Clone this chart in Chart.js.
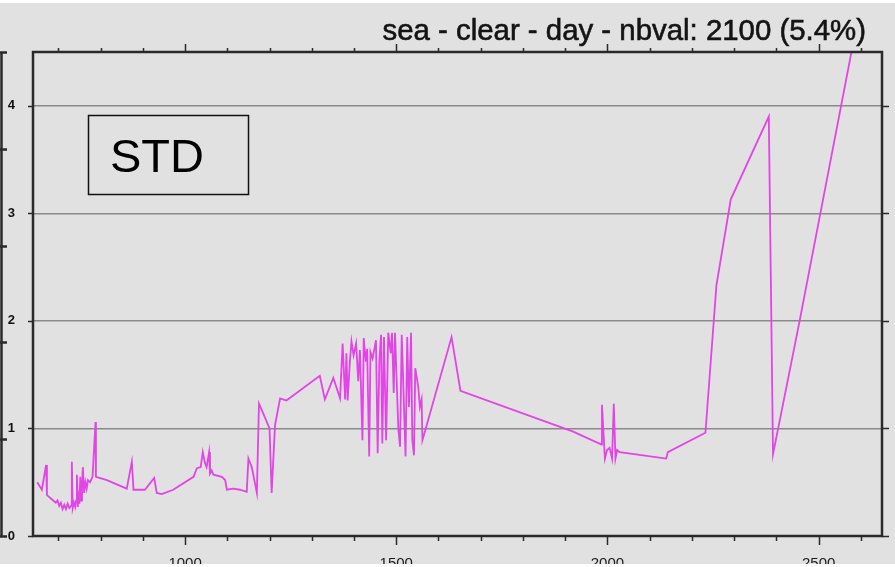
<!DOCTYPE html>
<html>
<head>
<meta charset="utf-8">
<script src="https://cdn.jsdelivr.net/npm/chart.js@4.4.1/dist/chart.umd.min.js"></script>
<style>
  html, body { margin: 0; padding: 0; background: #ffffff; }
  #wrap { width: 895px; height: 567px; }
</style>
</head>
<body>
<div id="wrap"><canvas id="chart" width="895" height="567"></canvas></div>
<script>
// Standard deviation per channel (wavenumber, cm-1)
const wavenumbers = [
  650, 661, 671, 673, 688, 694, 698, 702, 706, 710, 714, 718, 722, 726, 730, 732, 734, 737, 740, 742,
  744, 746, 748, 750, 752, 754, 756, 758, 761, 764, 767, 770, 775, 781, 788, 789, 815, 862, 874, 878,
  905, 927, 933, 945, 972, 1020, 1028, 1037, 1042, 1047, 1051, 1057, 1059, 1063, 1067, 1087, 1095, 1099, 1114, 1130,
  1146, 1150, 1158, 1170, 1175, 1185, 1200, 1205, 1213, 1225, 1240, 1319, 1331, 1351, 1367, 1373, 1379, 1382, 1385, 1390,
  1394, 1399, 1405, 1410, 1414, 1420, 1423, 1428, 1431, 1436, 1439, 1444, 1452, 1456, 1460, 1464, 1467, 1471, 1476, 1481,
  1487, 1490, 1494, 1497, 1505, 1509, 1513, 1522, 1526, 1530, 1535, 1538, 1542, 1545, 1552, 1556, 1560, 1562, 1631, 1652,
  1919, 1986, 1987, 1994, 1999, 2005, 2011, 2015, 2019, 2023, 2029, 2139, 2143, 2232, 2258, 2292, 2382, 2392, 2455, 2590
];
const stdValues = [
  0.50, 0.43, 0.66, 0.38, 0.33, 0.31, 0.33, 0.28, 0.31, 0.25, 0.29, 0.25, 0.30, 0.26, 0.28, 0.69, 0.26, 0.31, 0.27, 0.33,
  0.57, 0.27, 0.36, 0.30, 0.55, 0.33, 0.45, 0.64, 0.40, 0.50, 0.44, 0.52, 0.50, 0.55, 1.06, 0.55, 0.52, 0.44, 0.69, 0.43,
  0.43, 0.54, 0.40, 0.39, 0.43, 0.55, 0.63, 0.64, 0.78, 0.68, 0.64, 0.78, 0.58, 0.61, 0.57, 0.55, 0.52, 0.43, 0.44, 0.43,
  0.41, 0.72, 0.64, 0.40, 1.23, 1.14, 1.00, 0.40, 1.03, 1.28, 1.26, 1.49, 1.27, 1.47, 1.28, 1.79, 1.27, 1.70, 1.26, 1.61,
  1.81, 1.68, 1.79, 1.44, 1.73, 0.89, 1.84, 1.62, 1.74, 0.74, 1.71, 1.65, 1.82, 0.77, 1.62, 1.87, 0.86, 1.85, 0.89, 1.89,
  1.70, 1.89, 1.33, 1.89, 0.99, 0.83, 1.87, 0.74, 1.85, 1.20, 1.89, 0.89, 0.75, 1.56, 1.39, 1.20, 1.27, 0.89, 1.85, 1.35,
  0.97, 0.85, 1.22, 0.72, 0.80, 0.82, 0.72, 1.23, 0.72, 0.80, 0.78, 0.72, 0.78, 0.96, 2.33, 3.13, 3.90, 0.76, 2.00, 4.75
];

// Axis ranges and labelled ticks
const xRange = [640, 2650];
const yRange = [0, 4.5];
const xMajorTicks = [1000, 1500, 2000, 2500];
const xMinorStep = 100;
const yTicks = [0, 1, 2, 3, 4];

const chartTitle = 'sea - clear - day - nbval: 2100 (5.4%)';
const boxLabel = 'STD';

const points = wavenumbers.map((w, i) => ({ x: w, y: stdValues[i] }));

const PANEL = '#e1e1e1';
const FRAME = '#2a2a2a';
const FONT = '"Liberation Sans", Arial, sans-serif';

const decorPlugin = {
  id: 'decor',
  beforeDraw(chart) {
    const { ctx, width, height } = chart;
    ctx.save();
    ctx.fillStyle = '#ffffff';
    ctx.fillRect(0, 0, width, height);
    ctx.fillStyle = PANEL;
    ctx.fillRect(0, 3, width, height - 6);
    ctx.restore();
  },
  afterDraw(chart) {
    const { ctx, chartArea: a, width, height } = chart;
    const xs = chart.scales.x, ys = chart.scales.y;
    ctx.save();

    // frame around the plot area
    ctx.strokeStyle = FRAME;
    ctx.lineWidth = 2.5;
    ctx.strokeRect(a.left, a.top, a.right - a.left, a.bottom - a.top);

    // x ticks on bottom and top edges
    ctx.lineWidth = 1.5;
    ctx.beginPath();
    for (let v = Math.ceil(xRange[0] / xMinorStep) * xMinorStep; v <= xRange[1]; v += xMinorStep) {
      const px = Math.round(xs.getPixelForValue(v)) + 0.5;
      const major = xMajorTicks.includes(v);
      ctx.moveTo(px, a.bottom); ctx.lineTo(px, a.bottom + (major ? 9 : 5));
      ctx.moveTo(px, a.top); ctx.lineTo(px, a.top - (major ? 8 : 4));
    }
    // y ticks on left and right edges
    yTicks.forEach(v => {
      const py = Math.round(ys.getPixelForValue(v)) + 0.5;
      ctx.moveTo(a.left, py); ctx.lineTo(a.left - 5, py);
      ctx.moveTo(a.right, py); ctx.lineTo(a.right + 7, py);
    });
    ctx.stroke();

    // edge of the neighbouring panel on the left
    ctx.lineWidth = 2.5;
    ctx.beginPath();
    ctx.moveTo(1.5, a.top); ctx.lineTo(1.5, a.bottom + 1);
    for (let k = 0; k <= 5; k++) {
      const py = Math.round(a.top + (a.bottom - a.top) * k / 5) + 0.5;
      ctx.moveTo(0, py); ctx.lineTo(7, py);
    }
    ctx.stroke();

    // label box
    ctx.lineWidth = 1.5;
    ctx.strokeStyle = '#111';
    ctx.strokeRect(88.5, 115.5, 160, 79);
    ctx.fillStyle = '#000';
    ctx.font = '47px ' + FONT;
    ctx.textAlign = 'left';
    ctx.textBaseline = 'alphabetic';
    ctx.fillText(boxLabel, 110, 172);

    // title
    ctx.fillStyle = '#141414';
    ctx.strokeStyle = '#141414';
    ctx.lineWidth = 0.6;
    ctx.font = '29.4px ' + FONT;
    ctx.textAlign = 'right';
    ctx.fillText(chartTitle, 866, 40);
    ctx.strokeText(chartTitle, 866, 40);

    // white strips at the top and bottom edges
    ctx.fillStyle = '#ffffff';
    ctx.fillRect(0, 0, width, 3);
    ctx.fillRect(0, height - 3, width, 3);
    ctx.restore();
  }
};

new Chart(document.getElementById('chart'), {
  type: 'line',
  data: {
    datasets: [{
      data: points,
      borderColor: '#e244e6',
      borderWidth: 1.8,
      pointRadius: 0,
      tension: 0,
      fill: false
    }]
  },
  options: {
    responsive: false,
    animation: false,
    events: [],
    layout: { padding: { top: 52, right: 13, left: 0, bottom: 0 } },
    plugins: { legend: { display: false }, title: { display: false }, tooltip: { enabled: false } },
    scales: {
      x: {
        type: 'linear',
        position: 'bottom',
        min: xRange[0],
        max: xRange[1],
        afterFit(s) { s.height = 31; },
        afterBuildTicks(s) { s.ticks = xMajorTicks.map(v => ({ value: v })); },
        ticks: {
          padding: 19,
          maxRotation: 0,
          autoSkip: false,
          color: '#1a1a1a',
          font: { family: FONT, size: 15 },
          callback: v => String(v)
        },
        grid: { display: true, drawOnChartArea: false, drawTicks: false },
        border: { display: false }
      },
      y: {
        type: 'linear',
        position: 'left',
        min: yRange[0],
        max: yRange[1],
        afterFit(s) { s.width = 33; },
        afterBuildTicks(s) { s.ticks = yTicks.map(v => ({ value: v })); },
        ticks: {
          padding: 18,
          color: '#111',
          font: { family: FONT, size: 13, weight: 'bold' },
          callback: v => String(v)
        },
        grid: {
          drawTicks: false,
          lineWidth: 1.5,
          color: c => (c.tick && c.tick.value === 0) ? 'rgba(0,0,0,0)' : '#8a8a8a'
        },
        border: { display: false }
      }
    }
  },
  plugins: [decorPlugin]
});
</script>
</body>
</html>
